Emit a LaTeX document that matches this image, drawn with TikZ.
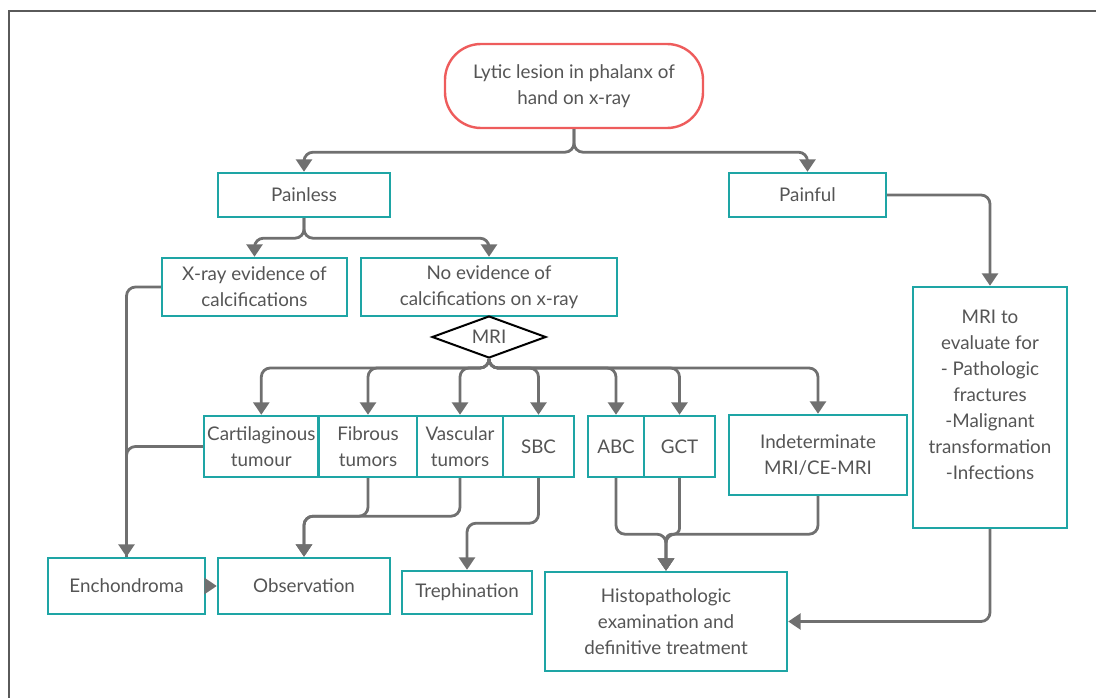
\documentclass[tikz,border=0pt]{standalone}
\usepackage{fontspec}
\setmainfont{Lato}
\usetikzlibrary{arrows.meta,shapes.geometric}
\definecolor{tealc}{RGB}{30,165,165}
\definecolor{redc}{RGB}{238,92,92}
\definecolor{linec}{RGB}{112,112,112}
\definecolor{txtc}{RGB}{85,85,85}
\definecolor{framec}{RGB}{90,90,90}
\tikzset{
  box/.style={draw=tealc, line width=2.4pt, fill=white, inner sep=0pt, align=center,
    text=txtc, font=\fontsize{18.8}{26}\selectfont},
  conn/.style={draw=linec, line width=2.8pt, rounded corners=9pt,
    -{Triangle[width=16pt,length=12.5pt]}},
  plainconn/.style={draw=linec, line width=2.8pt, rounded corners=9pt},
}
\begin{document}
\begin{tikzpicture}[x=1pt,y=-1pt]
\useasboundingbox (0,0) rectangle (1096,698);
\draw[framec, line width=1.6pt] (9,698) -- (9,11) -- (1096,11);

\node[box, draw=redc, rounded corners=36pt, minimum width=258, minimum height=84] (top) at (574,86) {Lytic lesion in phalanx of\\hand on x-ray};
\node[box, minimum width=172, minimum height=44] (painless) at (304,195) {Painless};
\node[box, minimum width=157, minimum height=44] (painful) at (807.5,195) {Painful};
\node[box, minimum width=185, minimum height=58] (xray) at (254.5,287) {X-ray evidence of\\calcifications};
\node[box, minimum width=256, minimum height=58] (noev) at (489,287) {No evidence of\\calcifications on x-ray};
\node[box, draw=black, line width=2pt, diamond, minimum width=114, minimum height=42, shape aspect=2.7] (mri) at (489,337) {MRI};
\node[box, minimum width=114.6, minimum height=61] (cart) at (261.3,446.5) {Cartilaginous\\tumour};
\node[box, minimum width=99, minimum height=61] (fib) at (368,446.5) {Fibrous\\tumors};
\node[box, minimum width=85.5, minimum height=61] (vasc) at (460,446.5) {Vascular\\tumors};
\node[box, minimum width=71, minimum height=61] (sbc) at (538.5,446.5) {SBC};
\node[box, minimum width=56.5, minimum height=61] (abc) at (616,446.5) {ABC};
\node[box, minimum width=71, minimum height=61] (gct) at (679.5,446.5) {GCT};
\node[box, minimum width=178, minimum height=80] (indet) at (818,455) {Indeterminate\\MRI/CE-MRI};
\node[box, minimum width=154, minimum height=241] (mrieval) at (990,407.5) {};
\node[align=center, text=txtc, font=\fontsize{18.8}{26}\selectfont, inner sep=0pt] (mrievaltxt) at (990,395) {MRI to\\evaluate for\\- Pathologic\\fractures\\-Malignant\\transformation\\-Infections};
\node[box, minimum width=157, minimum height=56] (enchon) at (126.5,586) {Enchondroma};
\node[box, minimum width=172, minimum height=56] (obs) at (304,586) {Observation};
\node[box, minimum width=130, minimum height=43] (treph) at (467,592.5) {Trephination};
\node[box, minimum width=242, minimum height=99] (histo) at (666,621.5) {Histopathologic\\examination and\\definitive treatment};

% connectors
\draw[conn] (top.south) -- ++(0,23) -| (painless.north);
\draw[conn] (top.south) -- ++(0,23) -| (painful.north);
\draw[conn] (painful.east) -| (mrieval.north);
\draw[conn] (painless.south) -- ++(0,20) -| (xray.north);
\draw[conn] (painless.south) -- ++(0,20) -| (noev.north);
\foreach \t in {cart,fib,vasc,sbc,abc,gct,indet}{
  \draw[conn] (mri.south) -- ++(0,9) -| (\t.north);
}
\draw[conn] (xray.west) -| (enchon.north);
\draw[plainconn] (cart.west) -| (enchon.north);
\draw[conn] (enchon.east) -- (obs.west);
\draw[conn] (fib.south) -- ++(0,38) -| (obs.north);
\draw[conn] (vasc.south) -- ++(0,38) -| (obs.north);
\draw[conn] (sbc.south) -- ++(0,45) -| (treph.north);
\draw[conn] (abc.south) -- ++(0,56) -| (histo.north);
\draw[conn, rounded corners=6pt] (gct.south) -- ++(0,56) -| (histo.north);
\draw[conn] (indet.south) -- ++(0,38) -| (histo.north);
\draw[conn] (mrieval.south) |- (histo.east);
\end{tikzpicture}
\end{document}
